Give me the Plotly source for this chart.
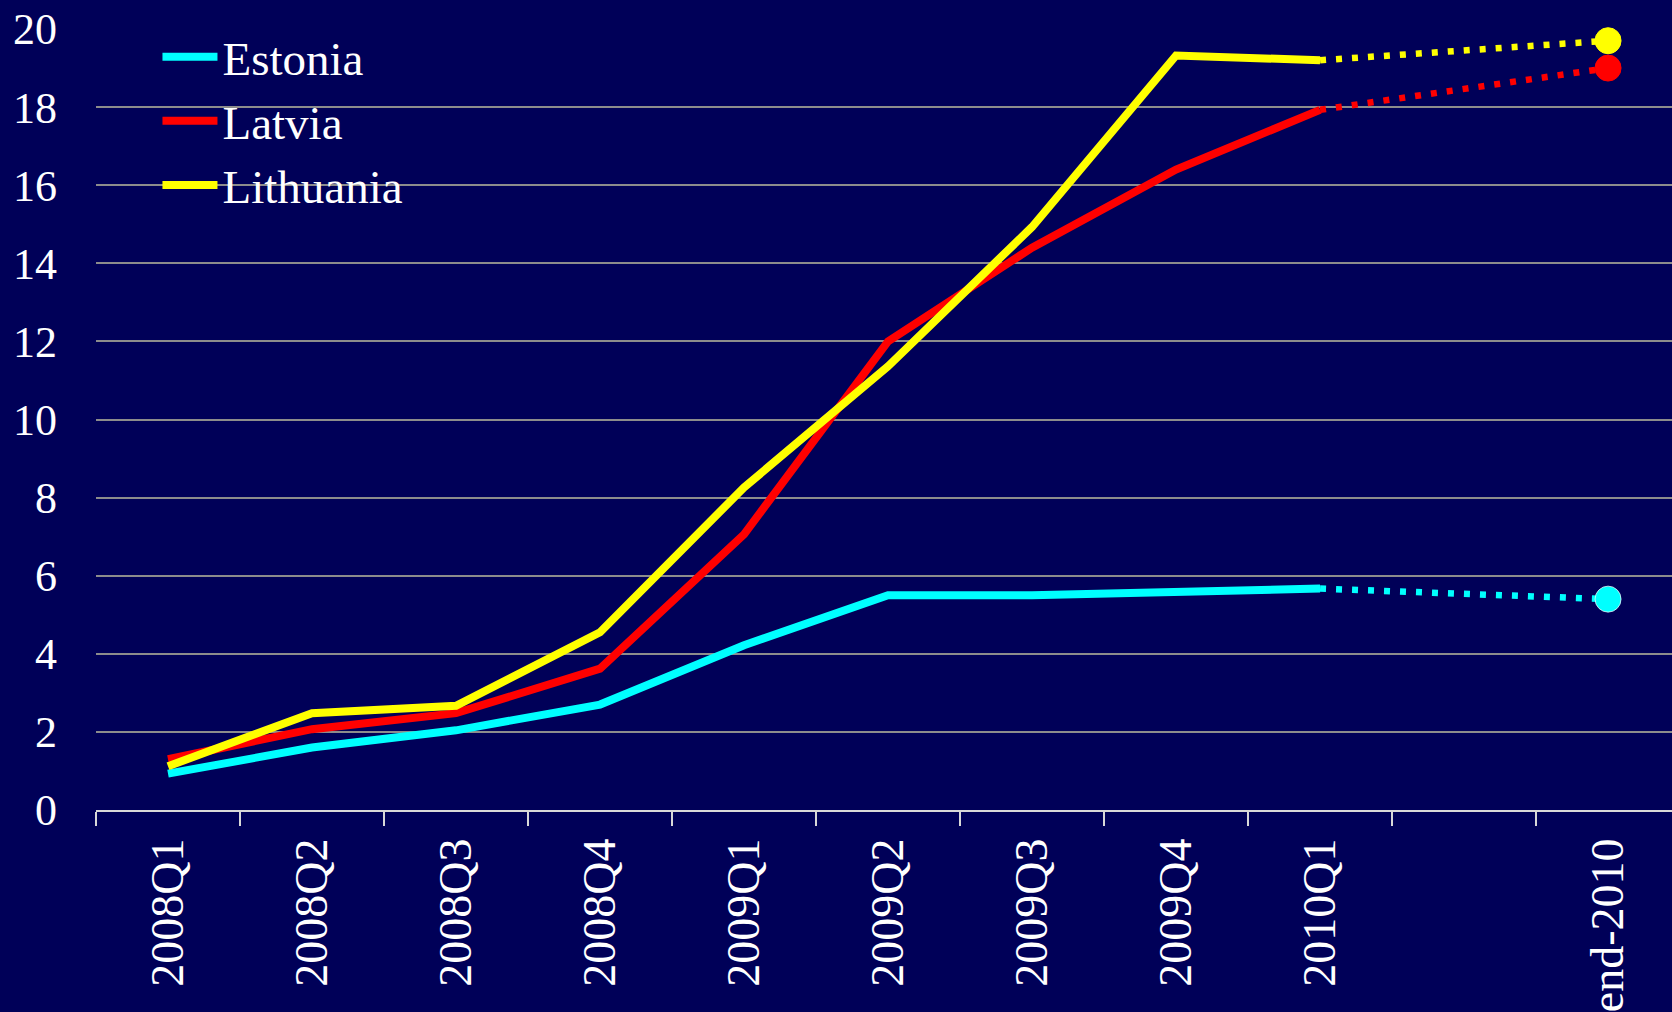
import plotly.graph_objects as go

# Quarterly series (per cent) and end-2010 projections
quarters = ["2008Q1", "2008Q2", "2008Q3", "2008Q4", "2009Q1",
            "2009Q2", "2009Q3", "2009Q4", "2010Q1"]
gap_label = " "
end_label = "end-2010"

estonia = [0.93, 1.60, 2.04, 2.70, 4.22, 5.50, 5.50, 5.61, 5.67]
latvia = [1.30, 2.07, 2.48, 3.62, 7.06, 12.0, 14.4, 16.4, 17.93]
lithuania = [1.12, 2.48, 2.67, 4.55, 8.26, 11.36, 14.93, 19.32, 19.2]

estonia_end = 5.4
latvia_end = 19.0
lithuania_end = 19.7

series = [
    ("Estonia", estonia, estonia_end, "#00FFFF"),
    ("Latvia", latvia, latvia_end, "#FF0000"),
    ("Lithuania", lithuania, lithuania_end, "#FFFF00"),
]

BG = "#000058"
FONT = "'Liberation Serif', 'DejaVu Serif', 'Times New Roman', serif"

fig = go.Figure()

for name, vals, end_val, color in series:
    # observed quarters
    fig.add_trace(go.Scatter(
        x=quarters, y=vals, mode="lines", name=name,
        line=dict(color=color, width=8),
        legendgroup=name,
    ))
    # projection link to end-2010
    fig.add_trace(go.Scatter(
        x=[quarters[-1], end_label], y=[vals[-1], end_val], mode="lines",
        line=dict(color=color, width=6.5, dash="6px,10px"),
        showlegend=False, hoverinfo="skip",
    ))
    # end-2010 point
    fig.add_trace(go.Scatter(
        x=[end_label], y=[end_val], mode="markers",
        marker=dict(color=color, size=26,
                    line=dict(color="rgba(255,255,255,0.7)" if name == "Estonia" else color,
                              width=1)),
        showlegend=False, cliponaxis=False,
    ))

fig.update_layout(
    width=1672, height=1012,
    margin=dict(l=96, r=0, t=29, b=200),
    paper_bgcolor=BG, plot_bgcolor=BG,
    font=dict(family=FONT, color="white"),
    showlegend=True,
    legend=dict(
        x=0.039, y=1.012, xanchor="left", yanchor="top",
        bgcolor="rgba(0,0,0,0)",
        font=dict(family=FONT, size=47, color="white"),
        itemwidth=55,
        tracegroupgap=0,
    ),
)

fig.update_xaxes(
    type="category",
    categoryorder="array",
    categoryarray=quarters + [gap_label, end_label],
    range=[-0.5, 10.444],
    tickson="boundaries",
    ticks="outside", ticklen=14, tickwidth=2, tickcolor="#D8D8D8",
    showline=True, linecolor="#D8D8D8", linewidth=2,
    showgrid=False, zeroline=False,
    tickangle=-90,
    tickfont=dict(family=FONT, size=46, color="white"),
    ticklabelstandoff=8,
)

fig.update_yaxes(
    range=[0, 20],
    tickvals=[0, 2, 4, 6, 8, 10, 12, 14, 16, 18, 20],
    showgrid=True, gridcolor="#8C8C8C", gridwidth=2,
    zeroline=False, showline=False, ticks="",
    tickfont=dict(family=FONT, size=44, color="white"),
    ticklabelstandoff=38,
)

fig.write_html("out.html")
